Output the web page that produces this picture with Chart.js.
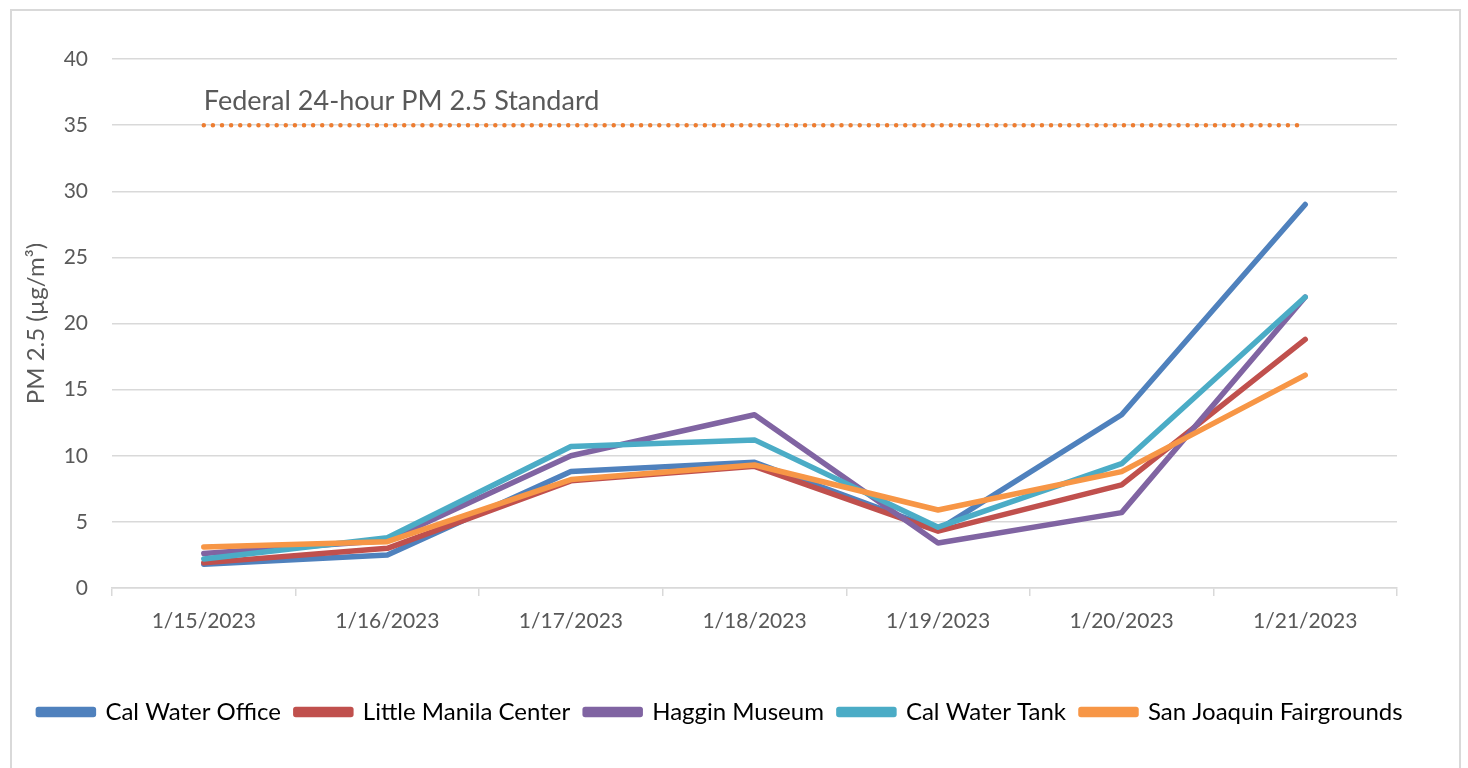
<!DOCTYPE html>
<html>
<head>
<meta charset="utf-8">
<script src="https://cdn.jsdelivr.net/npm/chart.js@4.4.1/dist/chart.umd.min.js"></script>
<style>
  html, body { margin: 0; padding: 0; background: #ffffff; overflow: hidden; }
  #frame { position: absolute; left: 10px; top: 9px; width: 1451px; height: 800px; border: 2px solid #D9D9D9; box-sizing: border-box; }
  #wrap { position: absolute; left: 0; top: 0; width: 1468px; height: 768px; }
</style>
</head>
<body>
<div id="frame"></div>
<div id="wrap"><canvas id="c"></canvas></div>
<script>
const categories = ['1/15/2023', '1/16/2023', '1/17/2023', '1/18/2023', '1/19/2023', '1/20/2023', '1/21/2023'];
const calWaterOffice     = [1.8, 2.5, 8.8, 9.5, 4.4, 13.1, 29.0];
const littleManilaCenter = [1.9, 3.0, 8.1, 9.2, 4.3, 7.8, 18.8];
const hagginMuseum       = [2.6, 3.6, 10.0, 13.1, 3.4, 5.7, 22.0];
const calWaterTank       = [2.2, 3.8, 10.7, 11.2, 4.6, 9.4, 22.0];
const sanJoaquinFair     = [3.1, 3.5, 8.2, 9.3, 5.9, 8.8, 16.1];
const standardValue = 35;
const standardLine = categories.map(() => standardValue);
const standardLabel = 'Federal 24-hour PM 2.5 Standard';
const yTicks = [0, 5, 10, 15, 20, 25, 30, 35, 40];

const FONT = 'Lato, "Open Sans", sans-serif';

const standardLabelPlugin = {
  id: 'standardLabel',
  afterDatasetsDraw(chart) {
    const x = chart.scales.x.getPixelForValue(0);
    const y = chart.scales.y.getPixelForValue(standardValue);
    const ctx = chart.ctx;
    ctx.save();
    ctx.font = '27px ' + FONT;
    ctx.fillStyle = '#595959';
    ctx.textAlign = 'left';
    ctx.textBaseline = 'middle';
    ctx.fillText(standardLabel, x, y - 24);
    ctx.restore();
  }
};

function series(label, data, color, order) {
  return {
    label, data, order,
    borderColor: color, backgroundColor: color,
    borderWidth: 5.5, pointRadius: 0, pointHoverRadius: 0,
    tension: 0, fill: false,
    borderCapStyle: 'round', borderJoinStyle: 'round'
  };
}

new Chart(document.getElementById('c'), {
  type: 'line',
  data: {
    labels: categories,
    datasets: [
      series('Cal Water Office', calWaterOffice, '#4F81BD', 5),
      series('Little Manila Center', littleManilaCenter, '#C0504D', 4),
      series('Haggin Museum', hagginMuseum, '#8064A2', 3),
      series('Cal Water Tank', calWaterTank, '#4BACC6', 2),
      series('San Joaquin Fairgrounds', sanJoaquinFair, '#F79646', 1),
      {
        label: 'standard', data: standardLine, order: 6,
        borderColor: '#ED7D31', backgroundColor: '#ED7D31',
        borderWidth: 4.5, borderDash: [0.01, 9.1], borderCapStyle: 'round',
        pointRadius: 0, pointHoverRadius: 0, fill: false, tension: 0
      }
    ]
  },
  options: {
    responsive: true,
    maintainAspectRatio: false,
    animation: false,
    events: [],
    layout: { padding: { left: 22, right: 49, top: 59, bottom: 34 } },
    plugins: {
      tooltip: { enabled: false },
      legend: {
        position: 'bottom',
        labels: {
          filter: (item) => item.text !== 'standard',
          sort: (a, b) => a.datasetIndex - b.datasetIndex,
          boxWidth: 55,
          boxHeight: 5,
          padding: 15,
          color: '#000000',
          font: { family: FONT, size: 24 }
        }
      }
    },
    scales: {
      x: {
        offset: true,
        grid: { offset: true, drawOnChartArea: false, drawTicks: true, tickLength: 8, color: '#D9D9D9', lineWidth: 1.5 },
        border: { display: true, color: '#D9D9D9', width: 1.5 },
        ticks: { color: '#595959', font: { family: FONT, size: 21 }, padding: 13, maxRotation: 0 },
        afterFit(scale) { scale.height = 97; }
      },
      y: {
        min: 0, max: 40,
        afterBuildTicks(scale) { scale.ticks = yTicks.map(v => ({ value: v })); },
        grid: { color: '#D9D9D9', lineWidth: 1.5, drawTicks: false },
        border: { display: false },
        ticks: { color: '#595959', font: { family: FONT, size: 21 }, padding: 24 },
        title: { display: true, text: 'PM 2.5 (µg/m³)', color: '#595959', font: { family: FONT, size: 24 }, padding: { top: 0, bottom: 0 } },
        afterFit(scale) { scale.width = 90; }
      },
      yRightSpace: {
        type: 'linear', position: 'right', display: true,
        grid: { display: false, drawTicks: false },
        border: { display: false },
        ticks: { display: false },
        afterFit(scale) { scale.width = 22; }
      }
    }
  },
  plugins: [standardLabelPlugin]
});
</script>
</body>
</html>
